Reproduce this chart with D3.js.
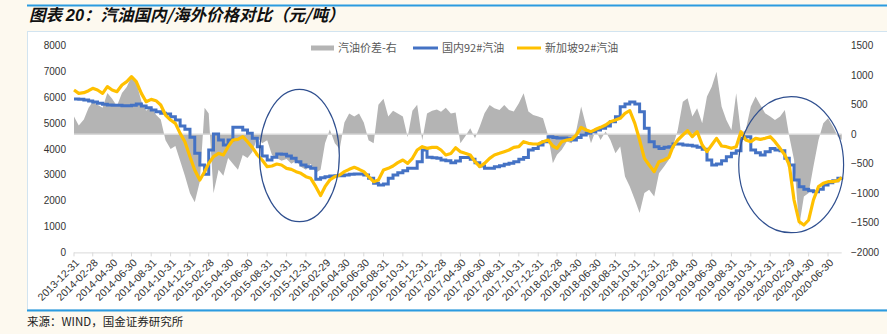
<!DOCTYPE html>
<html><head><meta charset="utf-8">
<script src="https://cdn.jsdelivr.net/npm/d3@7/dist/d3.min.js"></script>
<style>body{margin:0;background:#FDF9EF;}svg{display:block}</style>
</head><body>
<svg id="c" width="887" height="334"></svg>
<script>
// ---- data (semimonthly readings: month-end and mid-month, 2013-12-31 .. 2020-08-12) ----
const tickLabels = ["2013-12-31","2014-02-28","2014-04-30","2014-06-30","2014-08-31","2014-10-31","2014-12-31",
"2015-02-28","2015-04-30","2015-06-30","2015-08-31","2015-10-31","2015-12-31","2016-02-29","2016-04-30","2016-06-30",
"2016-08-31","2016-10-31","2016-12-31","2017-02-28","2017-04-30","2017-06-30","2017-08-31","2017-10-31","2017-12-31",
"2018-02-28","2018-04-30","2018-06-30","2018-08-31","2018-10-31","2018-12-31","2019-02-28","2019-04-30","2019-06-30",
"2019-08-31","2019-10-31","2019-12-31","2020-02-29","2020-04-30","2020-06-30"];

const domestic = [5937,5924,5898,5860,5820,5769,5730,5704,5691,5691, 5678,5678,5691,5743,5665,5601,5510,5446,5381,5355,
5252,5123,4891,4762,4452,3833,3381,3020,3963,4582, 4350,4157,4350,4840,4840,4737,4608,4414,4092,3731,
3576,3679,3808,3795,3731,3641,3512,3381,3318,3253, 2828,2892,2931,2957,2970,2970,2996,3021,3034,3034,
2996,2867,2673,2608,2647,2867,2996,3086,3163,3253, 3253,3512,3963,3679,3666,3641,3576,3550,3470,3540,
3676,3676,3602,3473,3344,3253,3253,3318,3357,3408, 3447,3512,3602,3676,3960,4024,4153,4282,4476,4450,
4424,4424,4399,4350,4450,4540,4609,4673,4737,4802, 4892,5060,5253,5640,5743,5821,5743,5446,4802,4282,
4092,4024,4066,4092,4195,4195,4157,4144,4118,4066, 3989,3576,3381,3421,3550,3705,3833,3937,4414,4476,
3960,3860,3769,3898,4024,3960,3937,3641,3381,2801, 2543,2440,2389,2350,2440,2608,2698,2775,2866,2892];

const singapore = [6285,6156,6182,6259,6350,6285,6156,6414,6285,6221, 6479,6608,6801,6608,6156,5833,5924,5872,5704,5317,
5123,4994,4607,4285,3705,3189,2802,3124,3447,3705, 3834,3770,4092,4350,4376,4479,4285,4066,3770,3576,
3318,3344,3421,3383,3254,3215,3125,3060,2931,2867, 2544,2200,2544,2802,2931,2995,3125,3215,3292,3215,
3125,2931,2737,2802,3189,3254,3344,3473,3576,3447, 3641,3963,4092,4028,4066,4066,3963,3770,3830,4050,
3899,3834,3770,3512,3318,3447,3641,3770,3834,3899, 3963,4066,4092,4286,4221,4195,4195,4286,4350,4118,
4028,4286,4350,4376,4544,4840,4737,4673,4763,4840, 4931,5060,5124,5189,5382,5486,4996,4350,3641,3383,
3125,3512,3576,3679,4092,4350,4544,4712,4479,4673, 4157,3899,4157,4415,4118,4092,4028,4092,4673,4350,
4286,4415,4376,4415,4479,4286,4028,3770,3383,2028, 1189,1060,1254,2028,2544,2673,2737,2737,2776,2905];

const spread = [300,150,250,450,550,500,450,700,600,480, 700,800,980,880,560,400,470,330,250,-100,
-250,-200,-450,-700,-1000,-1150,-800,450,350,-1000, -600,-700,-400,-500,-600,-350,-400,-300,-50,-150,
-100,-350,-400,-450,-420,-500,-450,-550,-600,-500, -650,-600,-150,80,-150,-250,200,350,300,350,
200,-100,-150,500,600,300,400,350,300,-50, 400,500,-100,350,400,420,380,450,350,370,
-151,-38,103,-66,131,356,497,441,412,497, 412,384,525,694,384,328,300,272,-20,-489,
-348,-263,-123,-151,74,469,131,-151,74,-95, 46,-95,-320,-207,-714,-883,-1109,-1334,-996,-940,
-1052,-658,-545,-432,-207,74,553,609,300,441, 187,638,807,1060,469,243,74,694,18,74,
469,638,497,356,300,243,300,412,-38,-432, -1559,-1052,-996,-545,-95,187,272,131,-38,-95];

const leftTicks = [0,1000,2000,3000,4000,5000,6000,7000,8000];
const rightTicks = [-2000,-1500,-1000,-500,0,500,1000,1500];
const seriesNames = ["汽油价差-右","国内92#汽油","新加坡92#汽油"];
// annotation ellipses: [from date, to date, low value, high value] (left axis)
const highlights = [["2015-08-07","2016-04-14",1188,6312],["2019-09-23","2020-08-18",762,6026]];

// ---- build ----
const parse = d3.timeParse("%Y-%m-%d");
const dates = d3.range(spread.length).map(i => i === spread.length - 1 ? new Date(2020,7,12)
  : (i % 2 === 0 ? new Date(2013, 12 + i/2, 0) : new Date(2013, 12 + (i-1)/2, 15)));

const svg = d3.select("#c");
svg.append("rect").attr("width",887).attr("height",334).attr("fill","#FDF9EF");
svg.append("rect").attr("x",27).attr("y",4.5).attr("width",860).attr("height",2).attr("fill","#2B9BE0");
const title = svg.append("text").attr("x",29).attr("y",21)
  .style("font-family","'Noto Sans CJK SC',sans-serif").style("font-size","16.5px").style("font-style","italic")
  .style("font-weight","bold").attr("fill","#111");
title.append("tspan").text("图表 ");
title.append("tspan").style("font-family","'Liberation Sans',Arial,sans-serif").text("20");
title.append("tspan").text("：汽油国内/海外价格对比（元/吨）");

svg.append("rect").attr("x",27.5).attr("y",31.5).attr("width",860).attr("height",278).attr("fill","#fff").attr("stroke","#D2E4F0");
svg.append("rect").attr("x",27).attr("y",309.5).attr("width",860).attr("height",2).attr("fill","#2B9BE0");
svg.append("text").attr("x",27).attr("y",326).style("font-family","'Noto Sans CJK SC',sans-serif").style("font-size","11.5px")
  .attr("fill","#222").text("来源：WIND，国金证券研究所");

const x = d3.scaleTime().domain([new Date(2013,11,31), new Date(2020,7,12)]).range([74, 841.7]);
const yL = d3.scaleLinear().domain([0,8000]).range([252.4, 45.7]);
const yR = d3.scaleLinear().domain([-2000,1500]).range([252.4, 45.7]);

// spread area
svg.append("path").datum(spread).attr("fill","#B4B4B4")
  .attr("d", d3.area().x((d,i)=>x(dates[i])).y0(yR(0)).y1(d=>yR(d)));
svg.append("line").attr("x1",x.range()[0]).attr("x2",x.range()[1]).attr("y1",yR(0)).attr("y2",yR(0))
  .attr("stroke","#D9D9D9").attr("stroke-width",1.5);

// lines
svg.append("path").datum(domestic).attr("fill","none").attr("stroke","#4472C4").attr("stroke-width",3)
  .attr("d", d3.line().x((d,i)=>x(dates[i])).y(d=>yL(d)).curve(d3.curveStepAfter));
svg.append("path").datum(singapore).attr("fill","none").attr("stroke","#FFC000").attr("stroke-width",3.2)
  .attr("stroke-linejoin","round").attr("d", d3.line().x((d,i)=>x(dates[i])).y(d=>yL(d)));

// x axis
const ax = svg.append("g");
ax.append("line").attr("x1",x.range()[0]).attr("x2",x.range()[1]).attr("y1",yL(0)+0.5).attr("y2",yL(0)+0.5).attr("stroke","#D9D9D9");
tickLabels.forEach(t => {
  const px = x(parse(t));
  ax.append("line").attr("x1",px).attr("x2",px).attr("y1",yL(0)).attr("y2",yL(0)+4).attr("stroke","#D9D9D9");
  ax.append("text").attr("transform",`translate(${px+6},${yL(0)+11}) rotate(-45)`).attr("text-anchor","end")
    .style("font-family","'Liberation Sans',Arial,sans-serif").style("font-size","10.5px").attr("fill","#333").text(t);
});
// y axes
const fmt = d3.format("d");
leftTicks.forEach(v => svg.append("text").attr("x",66).attr("y",yL(v)).attr("dy","0.35em").attr("text-anchor","end")
  .style("font-family","'Liberation Sans',Arial,sans-serif").style("font-size","10px").attr("fill","#333").text(fmt(v)));
rightTicks.forEach(v => svg.append("text").attr("x",851).attr("y",yR(v)).attr("dy","0.35em").attr("text-anchor","start")
  .style("font-family","'Liberation Sans',Arial,sans-serif").style("font-size","10px").attr("fill","#333").text(d3.format("")(v)));

// highlight ellipses
highlights.forEach(h => {
  const x0 = x(parse(h[0])), x1 = x(parse(h[1])), y0 = yL(h[2]), y1 = yL(h[3]);
  svg.append("ellipse").attr("cx",(x0+x1)/2).attr("cy",(y0+y1)/2).attr("rx",(x1-x0)/2).attr("ry",(y0-y1)/2)
    .attr("fill","none").attr("stroke","#2F4F8F").attr("stroke-width",1.2);
});

// legend
const lg = svg.append("g").style("font-family","'Noto Sans CJK SC',sans-serif").style("font-size","11px");
lg.append("rect").attr("x",311).attr("y",45.5).attr("width",23).attr("height",5).attr("fill","#B4B4B4");
lg.append("text").attr("x",338).attr("y",52).attr("fill","#595959").text(seriesNames[0]);
lg.append("line").attr("x1",413).attr("x2",438).attr("y1",48).attr("y2",48).attr("stroke","#4472C4").attr("stroke-width",3);
lg.append("text").attr("x",442).attr("y",52).attr("fill","#595959").text(seriesNames[1]);
lg.append("line").attr("x1",517).attr("x2",541).attr("y1",48).attr("y2",48).attr("stroke","#FFC000").attr("stroke-width",3);
lg.append("text").attr("x",545).attr("y",52).attr("fill","#595959").text(seriesNames[2]);
</script>
</body></html>
